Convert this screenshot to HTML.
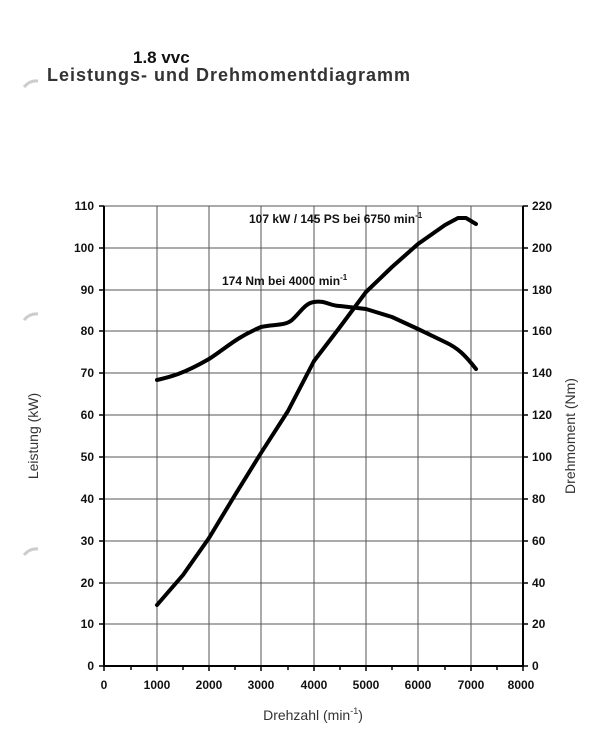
<!DOCTYPE html>
<html><head><style>
body{margin:0;background:#fff;}
</style></head><body>
<svg width="610" height="732" xmlns="http://www.w3.org/2000/svg" font-family="Liberation Sans, sans-serif">
<rect width="610" height="732" fill="#fff"/>
<text x="133" y="63" font-size="17" font-weight="bold" fill="#111">1.8 vvc</text>
<text x="47" y="81" font-size="18" font-weight="bold" fill="#333" letter-spacing="1">Leistungs- und Drehmomentdiagramm</text>
<path d="M24 87 q6 -7 14 -6" stroke="#ccc" stroke-width="3" fill="none"/>
<path d="M24 320 q6 -7 14 -6" stroke="#ccc" stroke-width="3" fill="none"/>
<path d="M24 555 q6 -7 14 -6" stroke="#ccc" stroke-width="3" fill="none"/>
<g stroke="#555" stroke-width="1">
<line x1="157" y1="206" x2="157" y2="666"/><line x1="209" y1="206" x2="209" y2="666"/>
<line x1="261" y1="206" x2="261" y2="666"/><line x1="314" y1="206" x2="314" y2="666"/>
<line x1="366" y1="206" x2="366" y2="666"/><line x1="418" y1="206" x2="418" y2="666"/>
<line x1="471" y1="206" x2="471" y2="666"/>
<line x1="104" y1="206" x2="523" y2="206"/><line x1="104" y1="248" x2="523" y2="248"/>
<line x1="104" y1="290" x2="523" y2="290"/><line x1="104" y1="331" x2="523" y2="331"/>
<line x1="104" y1="373" x2="523" y2="373"/><line x1="104" y1="415" x2="523" y2="415"/>
<line x1="104" y1="457" x2="523" y2="457"/><line x1="104" y1="499" x2="523" y2="499"/>
<line x1="104" y1="541" x2="523" y2="541"/><line x1="104" y1="583" x2="523" y2="583"/>
<line x1="104" y1="624" x2="523" y2="624"/>
</g>
<g stroke="#000" stroke-width="2">
<line x1="104" y1="206" x2="104" y2="667"/><line x1="523" y1="206" x2="523" y2="667"/>
<line x1="103" y1="666" x2="524" y2="666"/>
</g>
<g stroke="#000" stroke-width="1.5">
<path d="M99 206h5M99 248h5M99 290h5M99 331h5M99 373h5M99 415h5M99 457h5M99 499h5M99 541h5M99 583h5M99 624h5M99 666h5"/>
<path d="M523 206h5M523 248h5M523 290h5M523 331h5M523 373h5M523 415h5M523 457h5M523 499h5M523 541h5M523 583h5M523 624h5M523 666h5"/>
<path d="M104 666v5M131 666v4M157 666v5M183 666v4M209 666v5M235 666v4M261 666v5M288 666v4M314 666v5M340 666v4M366 666v5M392 666v4M418 666v5M445 666v4M471 666v5M497 666v4M523 666v5"/>
</g>
<g font-size="12" font-weight="bold" fill="#111" text-anchor="end">
<text x="94" y="210">110</text><text x="94" y="252">100</text><text x="94" y="294">90</text>
<text x="94" y="335">80</text><text x="94" y="377">70</text><text x="94" y="419">60</text>
<text x="94" y="461">50</text><text x="94" y="503">40</text><text x="94" y="545">30</text>
<text x="94" y="587">20</text><text x="94" y="628">10</text><text x="94" y="670">0</text>
</g>
<g font-size="12" font-weight="bold" fill="#111">
<text x="532" y="210">220</text><text x="532" y="252">200</text><text x="532" y="294">180</text>
<text x="532" y="335">160</text><text x="532" y="377">140</text><text x="532" y="419">120</text>
<text x="532" y="461">100</text><text x="532" y="503">80</text><text x="532" y="545">60</text>
<text x="532" y="587">40</text><text x="532" y="628">20</text><text x="532" y="670">0</text>
</g>
<g font-size="12" font-weight="bold" fill="#111" text-anchor="middle">
<text x="104" y="689">0</text><text x="157" y="689">1000</text><text x="209" y="689">2000</text>
<text x="261" y="689">3000</text><text x="314" y="689">4000</text><text x="366" y="689">5000</text>
<text x="418" y="689">6000</text><text x="471" y="689">7000</text><text x="521" y="689">8000</text>
</g>
<text x="313" y="720" font-size="14" fill="#333" text-anchor="middle">Drehzahl (min<tspan font-size="9" dy="-6">-1</tspan><tspan dy="6">)</tspan></text>
<text transform="translate(38,436) rotate(-90)" font-size="14" fill="#333" text-anchor="middle">Leistung (kW)</text>
<text transform="translate(575,436) rotate(-90)" font-size="14" fill="#333" text-anchor="middle">Drehmoment (Nm)</text>
<text x="249" y="223" font-size="12" font-weight="bold" fill="#111">107 kW / 145 PS bei 6750 min<tspan font-size="8" dy="-5">-1</tspan></text>
<text x="222" y="285" font-size="12" font-weight="bold" fill="#111">174 Nm bei 4000 min<tspan font-size="8" dy="-5">-1</tspan></text>
<path d="M157 605 L183 575 L209 538 L235 495 L261 453 L288 411 L314 361 L340 327 L366 292 L392 267 L418 244 L445 225 L458 218 L466 218 L471 221 L476 224" stroke="#000" stroke-width="4" fill="none" stroke-linejoin="round" stroke-linecap="round"/>
<path d="M157 380 C170 377 183 374 209 359 C225 349 235 338 261 327 C275 324 285 326 292 320 C300 313 305 303 314 302 C325 300 330 306 340 306 L366 309 L392 317 L418 329 L445 342 C458 348 465 355 476 369" stroke="#000" stroke-width="4" fill="none" stroke-linejoin="round" stroke-linecap="round"/>
</svg>
</body></html>
